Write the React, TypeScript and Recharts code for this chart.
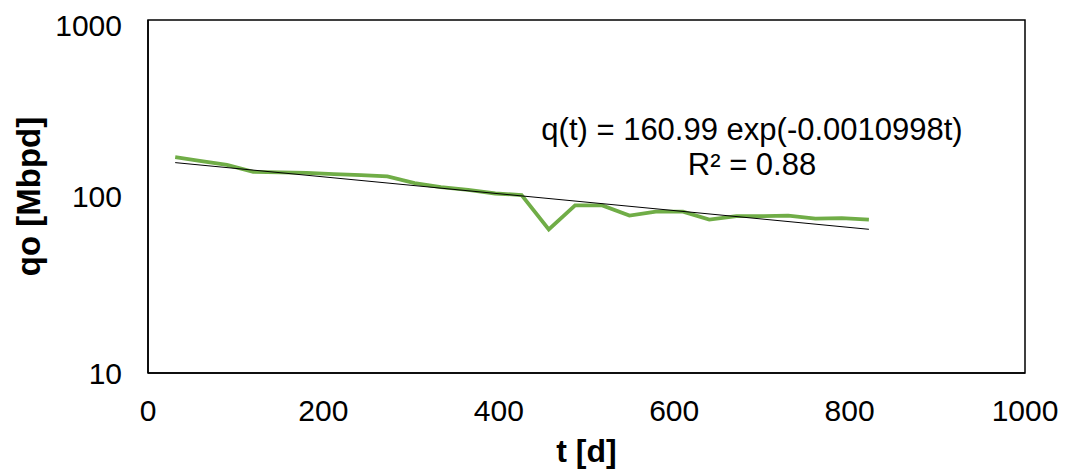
import React from "react";
import {
	ComposedChart,
	Line,
	XAxis,
	YAxis,
	ReferenceArea,
	Label,
} from "recharts";

// monthly production, t in days, qo in Mbpd
const days = [
	31, 59, 90, 120, 151, 181, 212, 243, 273, 304, 334, 365, 396, 426, 457, 487,
	518, 549, 579, 610, 640, 671, 702, 730, 761, 791, 822,
];
const rates = [
	167, 159, 151, 138, 137, 136, 134, 132, 130, 119, 113, 109, 104, 102, 65, 89,
	89, 78, 82, 82, 74, 77.5, 77.5, 78, 75, 75.5, 74,
];

// exponential fit q(t) = qi * exp(-D t)
const fitQi = 160.99;
const fitD = 0.0010998;
const fitR2 = 0.88;

const xTicks = [0, 200, 400, 600, 800, 1000];
const yTicks = [10, 100, 1000];

const production = days.map((t, i) => ({ t, q: rates[i] }));
const fitEnds = [days[0], days[days.length - 1]];
const trend = fitEnds.map((t) => ({ t, fit: fitQi * Math.exp(-fitD * t) }));

const font = "'Liberation Sans', Arial, sans-serif";

const App: React.FC = () => {
	return (
		<div style={{ width: 1061, height: 466, fontFamily: font }}>
			<ComposedChart
				width={1061}
				height={466}
				margin={{ top: 12, right: 44, bottom: 0, left: 40 }}
			>
				<XAxis
					type="number"
					dataKey="t"
					domain={[0, 1000]}
					ticks={xTicks}
					tickSize={0}
					tickMargin={27}
					height={101}
					axisLine={{ stroke: "#000", strokeWidth: 1.5 }}
					tick={{ fill: "#000", fontSize: 30, fontFamily: font }}
				>
					<Label
						value="t [d]"
						position="insideBottom"
						offset={12}
						fill="#000"
						fontSize={32}
						fontWeight="bold"
						fontFamily={font}
					/>
				</XAxis>
				<YAxis
					scale="log"
					domain={[10, 1000]}
					ticks={yTicks}
					allowDataOverflow
					tickSize={0}
					tickMargin={26}
					width={100}
					axisLine={{ stroke: "#000", strokeWidth: 1.5 }}
					tick={{ fill: "#000", fontSize: 30, fontFamily: font }}
				>
					<Label
						value="qo [Mbpd]"
						angle={-90}
						position="insideLeft"
						offset={-20}
						style={{ textAnchor: "middle" }}
						fill="#000"
						fontSize={33}
						fontWeight="bold"
						fontFamily={font}
					/>
				</YAxis>

				{/* plot area frame */}
				<ReferenceArea
					x1={0}
					x2={1000}
					y1={10}
					y2={1000}
					fill="none"
					stroke="#000"
					strokeWidth={1.5}
				/>

				<Line
					data={production}
					dataKey="q"
					stroke="#70ad47"
					strokeWidth={3.8}
					dot={false}
					isAnimationActive={false}
				/>
				<Line
					data={trend}
					dataKey="fit"
					stroke="#000"
					strokeWidth={1}
					dot={false}
					isAnimationActive={false}
				/>

				<text
					x={744}
					y={132}
					textAnchor="middle"
					fontSize={31}
					fontFamily={font}
					fill="#000"
				>
					{`q(t) = ${fitQi} exp(-${fitD}t)`}
				</text>
				<text
					x={744}
					y={167}
					textAnchor="middle"
					fontSize={31}
					fontFamily={font}
					fill="#000"
				>
					{`R² = ${fitR2}`}
				</text>
			</ComposedChart>
		</div>
	);
};

export default App;
